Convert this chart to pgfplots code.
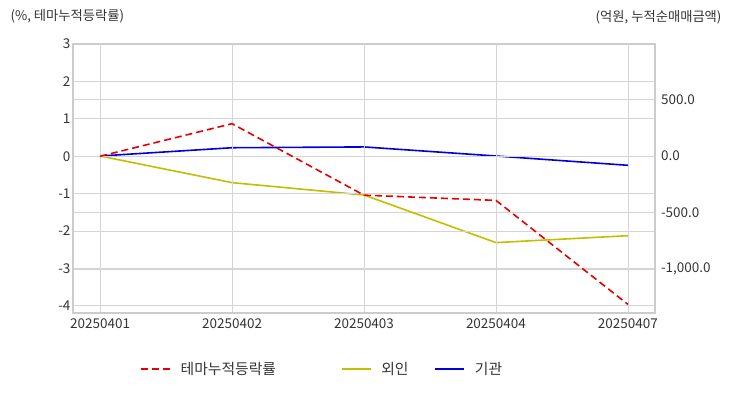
\documentclass[border=0pt]{standalone}
\usepackage{fontspec}
\setmainfont{Noto Sans CJK KR}
\usepackage{pgfplots}
\pgfplotsset{compat=1.18}
\definecolor{gridc}{HTML}{D4D4D4}
\definecolor{framec}{HTML}{CCCCCC}
\definecolor{txt}{HTML}{333333}
\definecolor{redl}{HTML}{E80000}
\definecolor{yell}{HTML}{C2BE00}
\definecolor{bluel}{HTML}{0000DD}
\begin{document}
\begin{tikzpicture}[x=1pt,y=1pt]
\path[use as bounding box] (0,0) rectangle (732,392);
\pgfplotsset{base/.style={at={(73pt,79pt)}, anchor=south west, scale only axis,
  width=582pt, height=269pt, xmin=-0.205, xmax=4.205,
  axis line style={framec, line width=1.6pt}, major tick length=0pt,
  tick label style={font=\fontsize{13.5}{15}\selectfont, text=txt},
  /pgf/number format/assume math mode=true,
  grid style={gridc, line width=0.9pt}}}
% right axis (yellow, blue)
\begin{axis}[base, hide x axis, axis y line*=right, ymin=-1385, ymax=988,
  ytick={-1000,-500,0,500}, ymajorgrids,
  yticklabel style={anchor=west, xshift=2.5pt, /pgf/number format/.cd, fixed, fixed zerofill, precision=1, 1000 sep={,}},
  legend columns=3,
  legend style={at={(axis description cs:0.115,-0.208)}, anchor=west, draw=none, fill=none,
    font=\fontsize{14.8}{16}\selectfont, text=txt, inner sep=0pt,
    /tikz/every odd column/.append style={column sep=8pt},
    /tikz/every even column/.append style={column sep=0pt}},
  legend image code/.code={\draw[#1] (0pt,0pt) -- (29pt,0pt);}]
\addlegendimage{redl, line width=1.6pt, dash pattern=on 7pt off 4pt}
\addlegendentry{\makebox[158pt][l]{테마누적등락률}}
\addplot[yell, line width=1.6pt] coordinates {(0,0) (1,-235) (2,-344) (3,-764) (4,-703)};
\addlegendentry{\makebox[51pt][l]{외인}}
\addplot[bluel, line width=1.6pt] coordinates {(0,0) (1,73) (2,80) (3,0) (4,-82)};
\addlegendentry{기관}
\end{axis}
% left axis (red)
\begin{axis}[base, ymin=-4.19, ymax=3, ytick={-4,-3,-2,-1,0,1,2,3},
  xtick={0,1,2,3,4}, xticklabels={20250401,20250402,20250403,20250404,20250407},
  ymajorgrids, xmajorgrids,
  yticklabel style={anchor=east, xshift=1pt},
  xticklabel style={yshift=-2pt}]
\addplot[redl, line width=1.6pt, dash pattern=on 7pt off 4pt] coordinates {(0,0) (1,0.87) (2,-1.04) (3,-1.18) (4,-3.96)};
\end{axis}
\node[anchor=west, text=txt, font=\fontsize{13.3}{15}\selectfont] at (7,376) {(\%, 테마누적등락률)};
\node[anchor=east, text=txt, font=\fontsize{13.3}{15}\selectfont] at (725,375) {(억원, 누적순매매금액)};
\end{tikzpicture}
\end{document}
